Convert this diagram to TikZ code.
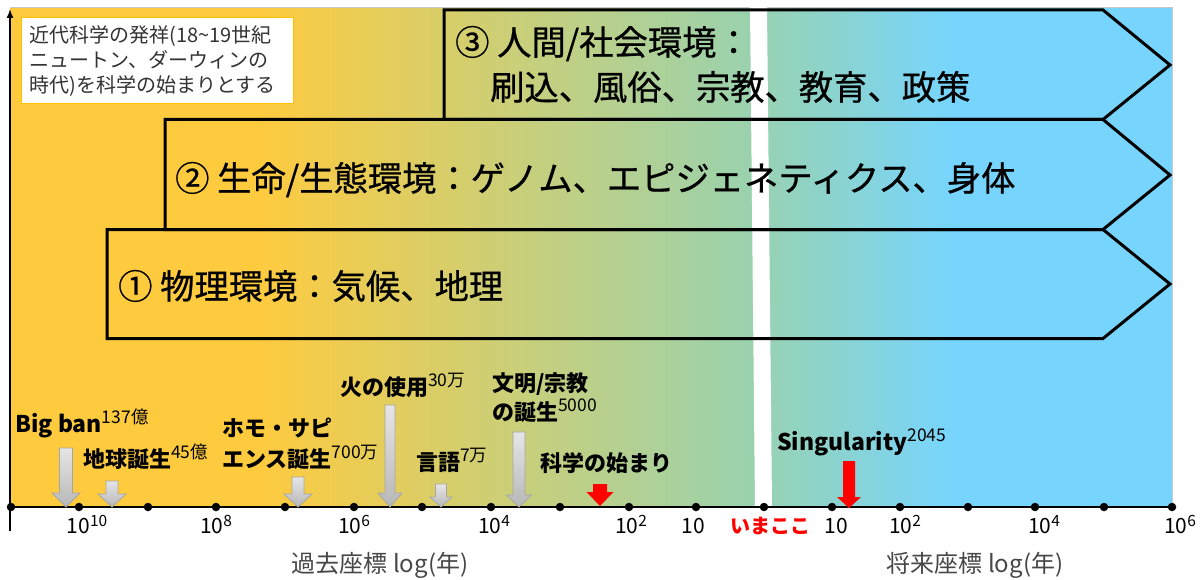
\documentclass[tikz,border=0pt]{standalone}
\usepackage{fontspec}
\setmainfont{Noto Sans CJK JP}
\newfontfamily\barfont[FakeBold=0.7]{Noto Sans CJK JP}
\usetikzlibrary{arrows.meta}
\definecolor{cOr}{HTML}{FECB3F}
\definecolor{cGr}{HTML}{9AD2AE}
\definecolor{cBl}{HTML}{77D5FD}
\definecolor{bxBorder}{HTML}{FFC000}
\definecolor{noteText}{HTML}{333333}
\newcommand\fs[1]{\fontsize{#1}{#1}\selectfont}
\newcommand\evsup[1]{\raisebox{9pt}{\mdseries\fontsize{17.5}{17.5}\selectfont #1}}
\newcommand\tsup[1]{\raisebox{7pt}{\fontsize{15.5}{15.5}\selectfont #1}}
\newcommand\blkarrow[7]{%
  \path[#1] (#2-#6,#3) -- (#2+#6,#3) -- (#2+#6,#4) -- (#2+#7,#4) -- (#2,#5)
    -- (#2-#7,#4) -- (#2-#6,#4) -- cycle;}
\begin{document}
\begin{tikzpicture}[x=1pt,y=-1pt,
  bar/.style={draw=black, line width=3pt, line join=miter},
  bartext/.style={anchor=base west, inner sep=0, font=\barfont\fs{34.3}},
  evt/.style={anchor=base west, inner sep=0, font=\bfseries\fs{22}},
  evtlat/.style={anchor=base west, inner sep=0, font=\bfseries\fs{23}},
  ticklab/.style={anchor=base, inner sep=0, font=\fs{21}},
  dot/.style={circle, fill=black, inner sep=0, minimum size=8.5pt},
  grayarr/.style={top color=black!10, bottom color=black!28, draw=black!35, line width=0.8pt},
  redarr/.style={fill=red},
  axtitle/.style={anchor=base, inner sep=0, font=\fs{24}, text=black!72}
]
\useasboundingbox (0,0) rectangle (1204,580);
% background gradient
\fill[cOr] (10,8) rectangle (260.5,507);
\shade[left color=cOr, right color=cGr] (260,8) rectangle (750.5,507);
\shade[left color=cGr, right color=cBl] (750,8) rectangle (950.5,507);
\fill[cBl] (950,8) rectangle (1172,507);
\draw[black!22, line width=1pt] (10,7.5) -- (1172,7.5) -- (1172,507);
\fill[white] (750,7) -- (767,7) -- (772,507) -- (755,507) -- cycle;

% note box
\node[draw=bxBorder, fill=white, line width=1.3pt, anchor=north west,
  minimum width=270, minimum height=86, text width=256, inner xsep=8,
  align=left, text=noteText, font=\fontsize{20}{25}\selectfont] (note) at (21,17)
  {近代科学の発祥(18\textasciitilde19世紀\\ニュートン、ダーウィンの\\時代)を科学の始まりとする};

% bars
\draw[bar] (444,10) -- (1103,10) -- (1170,65) -- (1103,119.5) -- (444,119.5) -- cycle;
\draw[bar] (165,119.5) -- (1103,119.5) -- (1170,175) -- (1103,229.5) -- (165,229.5) -- cycle;
\draw[bar] (107,229.5) -- (1103,229.5) -- (1170,284) -- (1103,338.5) -- (107,338.5) -- cycle;
\node[bartext] (b3a) at (455,55) {③ 人間/社会環境：};
\node[bartext] (b3b) at (490,100) {刷込、風俗、宗教、教育、政策};
\node[bartext] (b2) at (175,191) {② 生命/生態環境：ゲノム、エピジェネティクス、身体};
\node[bartext] (b1) at (118,299) {① 物理環境：気候、地理};

% axes
\coordinate (ytop) at (10,9);
\coordinate (ybot) at (10,531);
\draw[-{Latex[length=9pt,width=7pt]}, line width=1.5pt] (ybot) -- (ytop);
\foreach \x [count=\i] in {11,79,148,216,285,354,422,491,560,629,696,764,832,900,968,1035,1104,1172}
  \node[dot] (d\i) at (\x,507) {};
\draw[line width=1.5pt] (d1.center) -- (d18.center);

% block arrows
\blkarrow{grayarr}{66}{448}{493}{507}{6.5}{14}
\blkarrow{grayarr}{112}{481}{494}{507}{6}{14}
\blkarrow{grayarr}{298}{477}{494}{507}{6}{14}
\blkarrow{grayarr}{390}{405}{493}{507}{5}{12}
\blkarrow{grayarr}{441}{484}{497}{507}{5.5}{11}
\blkarrow{grayarr}{519}{432}{495}{507}{6}{12.5}
\blkarrow{redarr}{600}{484}{492}{506}{7}{13.5}
\blkarrow{redarr}{849}{461}{497}{508}{6}{12}

% event labels
\node[evtlat] (lbBig) at (15,432) {Big ban\evsup{137億}};
\node[evt] (lbEarth) at (83,467) {地球誕生\evsup{45億}};
\node[evt] (lbHomo) at (222,436) {ホモ・サピ};
\node[evt] (lbHomoB) at (222,467) {エンス誕生\evsup{700万}};
\node[evt] (lbFire) at (340,395) {火の使用\evsup{30万}};
\node[evt] (lbLang) at (416,470) {言語\evsup{7万}};
\node[evt] (lbCiv) at (492,391) {文明/宗教};
\node[evt] (lbCivB) at (492,420) {の誕生\evsup{5000}};
\node[evt] (lbSci) at (540,471) {科学の始まり};
\node[evtlat] (lbSing) at (777,450) {Singularity\evsup{2045}};

% tick labels
\node[ticklab] (t1) at (87,533) {10\tsup{10}};
\node[ticklab] (t2) at (216,533) {10\tsup{8}};
\node[ticklab] (t3) at (354,533) {10\tsup{6}};
\node[ticklab] (t4) at (494,533) {10\tsup{4}};
\node[ticklab] (t5) at (631,533) {10\tsup{2}};
\node[ticklab] (t6) at (693,533) {10};
\node[ticklab, text=red, font=\bfseries\fs{20}] (now) at (770,533) {いまここ};
\node[ticklab] (t7) at (836,533) {10};
\node[ticklab] (t8) at (905,533) {10\tsup{2}};
\node[ticklab] (t9) at (1044,533) {10\tsup{4}};
\node[ticklab] (t10) at (1180,533) {10\tsup{6}};

% axis titles
\node[axtitle] (pastT) at (380,572) {過去座標 log(年)};
\node[axtitle] (futT) at (975,572) {将来座標 log(年)};
\end{tikzpicture}
\end{document}
